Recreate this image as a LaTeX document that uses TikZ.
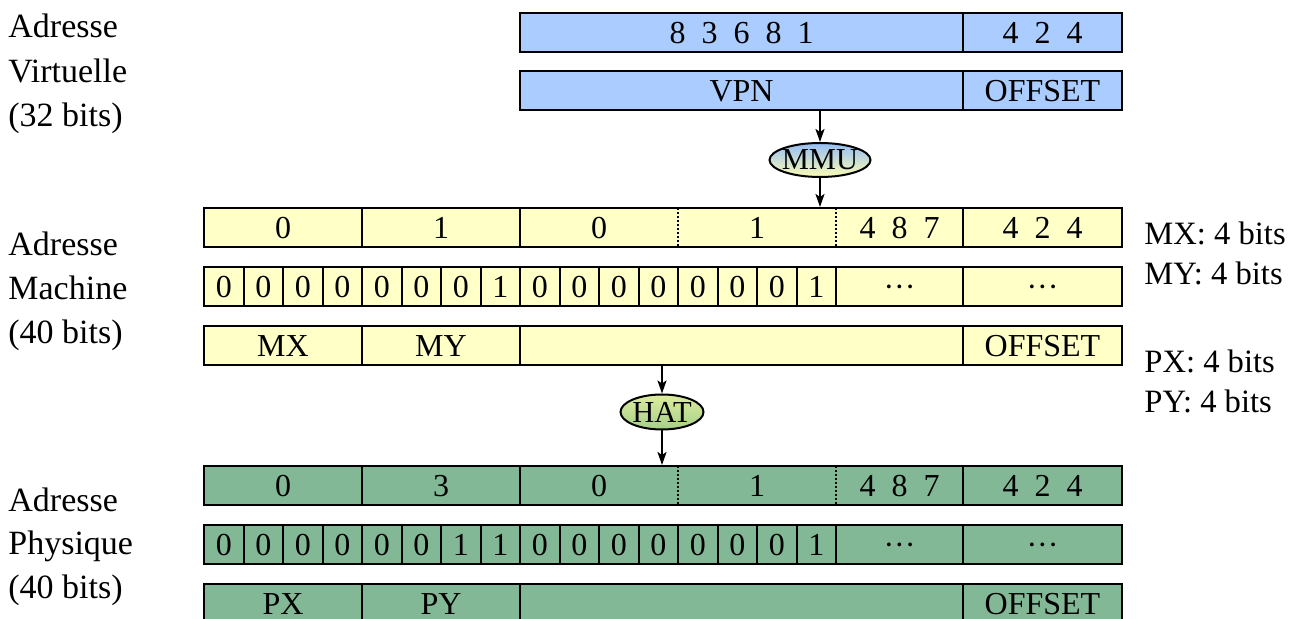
\documentclass[tikz,border=0pt]{standalone}
\usepackage{fontspec}
\setmainfont{Liberation Serif}
\usetikzlibrary{arrows.meta,shapes.geometric}
\definecolor{vblue}{RGB}{170,204,255}
\definecolor{vyel}{RGB}{255,255,200}
\definecolor{vgreen}{RGB}{131,184,151}
\definecolor{mmutop}{RGB}{150,190,245}
\definecolor{mmubot}{RGB}{252,252,180}
\definecolor{hattop}{RGB}{222,236,160}
\definecolor{hatbot}{RGB}{165,208,135}
\newcommand\mkcell[6]{\node[cell, fill=#5, minimum width={0.5*(#3-#2)}] (#1) at ({(#2+#3)/2},{#4+19.5}) {#6};}
\begin{document}
\begin{tikzpicture}[x=0.5pt,y=-0.5pt,
  font=\fontsize{16}{19}\selectfont,
  cell/.style={draw, line width=1pt, inner sep=0pt, text height=11pt, text depth=0pt, minimum height=19.5pt, anchor=center},
  txt/.style={inner sep=0pt, text height=11pt, text depth=0pt},
  lbl/.style={anchor=base west, inner sep=0pt, font=\fontsize{17}{20}\selectfont},
  rlbl/.style={anchor=base west, inner sep=0pt, font=\fontsize{16.3}{19}\selectfont},
  divider/.style={line width=1pt, dash pattern=on 1pt off 1pt},
  arr/.style={line width=1pt, -{Stealth[length=6.5pt,width=4.5pt,inset=1.5pt]}},
  unit/.style={ellipse, draw, line width=1pt, inner sep=0pt, inner xsep=-4pt, font=\fontsize{15.25}{18}\selectfont}]
\useasboundingbox (0,0) rectangle (1306,619);

% left labels
\node[lbl] (lv1) at (8,38) {Adresse};
\node[lbl] (lv2) at (8,83) {Virtuelle};
\node[lbl] (lv3) at (8,127) {(32 bits)};
\node[lbl] (lm1) at (8,256) {Adresse};
\node[lbl] (lm2) at (8,300) {Machine};
\node[lbl] (lm3) at (8,344) {(40 bits)};
\node[lbl] (lp1) at (8,512) {Adresse};
\node[lbl] (lp2) at (8,555) {Physique};
\node[lbl] (lp3) at (8,598) {(40 bits)};

% right labels
\node[rlbl] (rmx) at (1144,245) {MX: 4 bits};
\node[rlbl] (rmy) at (1144,285) {MY: 4 bits};
\node[rlbl] (rpx) at (1144,373) {PX: 4 bits};
\node[rlbl] (rpy) at (1144,413) {PY: 4 bits};

% virtual address
\mkcell{b1a}{520}{963}{13}{vblue}{8\enspace 3\enspace 6\enspace 8\enspace 1}
\mkcell{b1b}{963}{1122}{13}{vblue}{4\enspace 2\enspace 4}
\mkcell{vpn}{520}{963}{71}{vblue}{VPN}
\mkcell{voff}{963}{1122}{71}{vblue}{OFFSET}

% MMU
\node[unit, top color=mmutop, bottom color=mmubot, minimum width=50.5pt, minimum height=17pt] (mmu) at (820,160) {MMU};
\draw[arr] (vpn.south -| mmu.north) -- (mmu.north);

% machine address row 1
\mkcell{y1a}{204}{362}{208}{vyel}{0}
\mkcell{y1b}{362}{520}{208}{vyel}{1}
\mkcell{y1c}{520}{963}{208}{vyel}{}
\mkcell{y1d}{963}{1122}{208}{vyel}{4\enspace 2\enspace 4}
\node[txt] (y1t1) at (599,227.5) {0};
\node[txt] (y1t2) at (757,227.5) {1};
\node[txt] (y1t3) at (899.5,227.5) {4\enspace 8\enspace 7};
\draw[divider] (678,208) -- (678,247);
\draw[divider] (836,208) -- (836,247);
\draw[arr] (mmu.south) -- (mmu.south |- y1c.north);

% machine address row 2
\foreach \b [count=\i from 0] in {0,0,0,0,0,0,0,1,0,0,0,0,0,0,0,1} {
  \node[cell, fill=vyel, minimum width=19.75pt] (y2b\i) at ({204+39.5*(\i+0.5)},286.5) {\b};
}
\mkcell{y2d}{836}{963}{267}{vyel}{···}
\mkcell{y2e}{963}{1122}{267}{vyel}{···}

% machine address row 3
\mkcell{y3a}{204}{362}{326}{vyel}{MX}
\mkcell{y3b}{362}{520}{326}{vyel}{MY}
\mkcell{y3c}{520}{963}{326}{vyel}{}
\mkcell{y3d}{963}{1122}{326}{vyel}{OFFSET}

% HAT
\node[unit, top color=hattop, bottom color=hatbot, minimum width=41.5pt, minimum height=17.5pt] (hat) at (662,412) {HAT};
\draw[arr] (y3c.south -| hat.north) -- (hat.north);

% physical address row 1
\mkcell{g1a}{204}{362}{466}{vgreen}{0}
\mkcell{g1b}{362}{520}{466}{vgreen}{3}
\mkcell{g1c}{520}{963}{466}{vgreen}{}
\mkcell{g1d}{963}{1122}{466}{vgreen}{4\enspace 2\enspace 4}
\node[txt] (g1t1) at (599,485.5) {0};
\node[txt] (g1t2) at (757,485.5) {1};
\node[txt] (g1t3) at (899.5,485.5) {4\enspace 8\enspace 7};
\draw[divider] (678,466) -- (678,505);
\draw[divider] (836,466) -- (836,505);
\draw[arr] (hat.south) -- (hat.south |- g1c.north);

% physical address row 2
\foreach \b [count=\i from 0] in {0,0,0,0,0,0,1,1,0,0,0,0,0,0,0,1} {
  \node[cell, fill=vgreen, minimum width=19.75pt] (g2b\i) at ({204+39.5*(\i+0.5)},544.5) {\b};
}
\mkcell{g2d}{836}{963}{525}{vgreen}{···}
\mkcell{g2e}{963}{1122}{525}{vgreen}{···}

% physical address row 3
\mkcell{g3a}{204}{362}{584}{vgreen}{PX}
\mkcell{g3b}{362}{520}{584}{vgreen}{PY}
\mkcell{g3c}{520}{963}{584}{vgreen}{}
\mkcell{g3d}{963}{1122}{584}{vgreen}{OFFSET}
\end{tikzpicture}
\end{document}
